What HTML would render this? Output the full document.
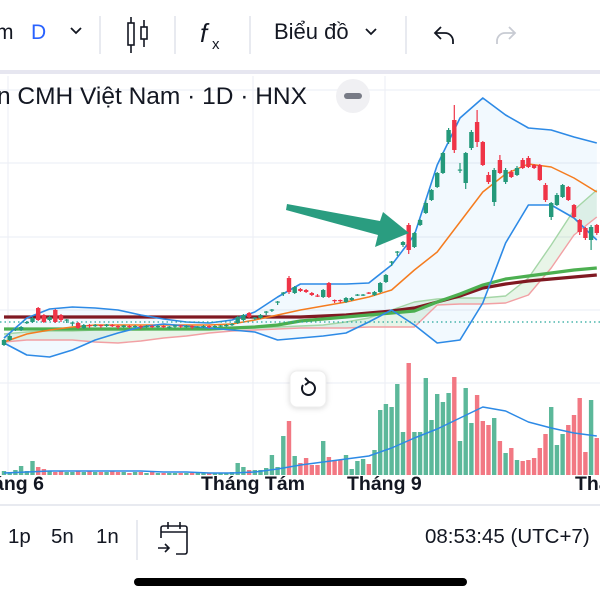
<!DOCTYPE html>
<html><head><meta charset="utf-8">
<style>
html,body{margin:0;padding:0;background:#fff;width:600px;height:600px;overflow:hidden;font-family:"Liberation Sans","Noto Sans CJK SC",sans-serif;}
svg text{font-family:"Liberation Sans","Noto Sans CJK SC",sans-serif;}
</style></head>
<body>
<svg id="c" width="600" height="600" viewBox="0 0 600 600" xmlns="http://www.w3.org/2000/svg">
<!-- toolbar -->
<g>
<text x="-4" y="39" font-size="21" fill="#131722">m</text>
<text x="31" y="39" font-size="21" fill="#2962ff">D</text>
<path d="M71 28 l5 5 l5 -5" stroke="#131722" stroke-width="1.8" fill="none"/>
<line x1="100" y1="16" x2="100" y2="54" stroke="#e0e3eb" stroke-width="1.5"/>
<g stroke="#131722" stroke-width="1.6" fill="none">
<line x1="131" y1="17" x2="131" y2="53"/><rect x="128" y="23" width="6" height="22" fill="#fff"/>
<line x1="144" y1="20" x2="144" y2="47"/><rect x="141" y="27" width="6" height="12" fill="#fff"/>
</g>
<line x1="175" y1="16" x2="175" y2="54" stroke="#e0e3eb" stroke-width="1.5"/>
<g>
<text x="200" y="42" font-size="26" font-family="Liberation Serif" fill="#131722" font-style="italic">f</text>
<text x="212" y="49" font-size="15" fill="#131722">x</text>
</g>
<line x1="250" y1="16" x2="250" y2="54" stroke="#e0e3eb" stroke-width="1.5"/>
<text x="274" y="39" font-size="22" fill="#131722">Biểu đồ</text>
<path d="M366 29 l5 5 l5 -5" stroke="#131722" stroke-width="1.8" fill="none"/>
<line x1="406" y1="16" x2="406" y2="54" stroke="#e0e3eb" stroke-width="1.5"/>
<path d="M441 27 l-6 6 l6 6 M435 33 h10 a8 8 0 0 1 8 8 v3" stroke="#131722" stroke-width="1.8" fill="none"/>
<path d="M509 27 l6 6 l-6 6 M515 33 h-10 a8 8 0 0 0 -8 8 v3" stroke="#c8cbd3" stroke-width="1.8" fill="none"/>
<rect x="0" y="70" width="600" height="4" fill="#e6e6f0"/>
</g>
<g id="plot"></g>
<!-- arrow -->
<polygon points="287,204 380,221 383,212 409,233 375,247 378,235 286,210" fill="#2a9d80"/>
<!-- title -->
<text x="-3" y="104" font-size="24.5" fill="#131722">n CMH Việt Nam · 1D · HNX</text>
<g>
<circle cx="353" cy="96" r="17" fill="#f0f0f3"/><rect x="344" y="93" width="18" height="6" rx="3" fill="#787b86"/>
</g>
<!-- reset button -->
<g>
<rect x="290" y="371" width="36" height="36" rx="7" fill="#fff" stroke="#eee" style="filter:drop-shadow(0 1px 3px rgba(0,0,0,0.15))"/>
<path d="M303 385 a6.5 6.5 0 1 0 6 -3" stroke="#131722" stroke-width="2" fill="none"/>
<path d="M305 378 l4 4 l-4 3" stroke="#131722" stroke-width="2" fill="none"/>
</g>
<!-- x axis labels -->
<g font-size="19.5" font-weight="bold" fill="#131722">
<text x="-7" y="490">áng 6</text>
<text x="201" y="490">Tháng Tám</text>
<text x="347" y="490">Tháng 9</text>
<text x="575" y="490">Thá</text>
</g>
<!-- bottom bar -->
<line x1="0" y1="505" x2="600" y2="505" stroke="#e0e3eb" stroke-width="1.5"/>
<g font-size="20.5" fill="#131722">
<text x="8" y="543">1p</text>
<text x="51" y="543">5n</text>
<text x="96" y="543">1n</text>
<text x="425" y="543">08:53:45 (UTC+7)</text>
</g>
<line x1="137" y1="520" x2="137" y2="560" stroke="#e0e3eb" stroke-width="1.5"/>
<g stroke="#131722" stroke-width="1.6" fill="none">
<path d="M161 538 v-10 a2 2 0 0 1 2 -2 h22 a2 2 0 0 1 2 2 v24 a2 2 0 0 1 -2 2 h-9"/>
<line x1="161" y1="532" x2="187" y2="532"/><line x1="168" y1="522" x2="168" y2="529"/><line x1="180" y1="522" x2="180" y2="529"/>
<path d="M158 548 h11 M165 544 l4 4 l-4 4"/>
</g>
<rect x="134" y="578" width="333" height="8" rx="4" fill="#000"/>
</svg>
<script>
// ===== data =====
const opens  = [55,60,70,70,77,78,92,85,80,90,85,80,77,77,72,75,74,75,74,75,74,73,74,73,74,73,74,73.5,74,73,73.5,74.5,73.5,74,73,73.5,74,73,74,74.5,75,77,80,87,82,82,88,90,98,107,122,107,111,110,107,104.5,103,117,100,100,98,100,105,105,107.5,105,108,118,138,148,155,175,153,175,187,200,213,227,258,280,230,217,252,278,258,225,198,240,218,228,225,240,242,235,235,215,183,195,203,213,195,180,172,160,175];
const closes = [60,64,71,73,78,82,80,78,83,78,80,80.5,77.5,72,75,74,75,74,75.5,74,73,74.5,73,74,73,74,73.5,74,73,73.5,74.5,73.5,74,73,73.5,74,73,74,74.5,75,76,83,85,83,82.5,85,88.5,90.5,98.5,107.5,108,113,109,108,105,104,110,103,99.5,99.5,102,102,105.5,105.5,107,108,117,125,138.5,148.5,158,150,167,180,197,210,227,247,270,250,230.5,247,268,258,235,218,230,227,230,223,232,232,233,232,220,200,197,205,215,200,183,168,162,173,167];
const highs  = [61,66,72,74,79,83,93,86,84,91,86,81,78,78,76,76,76,75.5,76,76,75,75,75,75,74.5,75,75,75,74.5,74,75,75,75,74.5,74,75,74.5,75,75,76,77,84,86,88,83,86,89,91,99,108,124,114,112,111,108,106,111,118,100.5,100.5,103,103,106,106,108,109,118,126,139,149,159,177,168,181,200,211,228,248,272,295,237,248,270,290,259,228,232,245,232,230,234,242,244,236,236,217,198,207,216,214,196,181,173,175,176];
const lows   = [54,59,69,69,76,77,79,77,79,77,78,77,74,71,71,72,73,72,73,73,71,72,72,72,71,72,72,72,72,71,72,72,72,71,72,72,72,72,73,73,74,76,79,82,80,81,85,88,95,104,106,106,108,107,104,103,102,102,97,97,97,99,104,104,106,104,107,117,134,144,153,146,152,174,186,199,212,226,256,247,227,211,250,253,234,216,194,226,216,222,224,231,232,231,219,198,180,194,202,199,182,165,160,150,165];
const volumes = [4,3,5,9,4,14,8,6,4,3,4,3,3,4,3,4,3,3,3,4,3,3,2,3,3,2,3,2,2,2,2,2,2,2,2,2,2,2,2,2,3,12,8,5,5,5,7,20,8,39,54,19,12,17,10,10,34,18,14,15,20,6,14,16,11,25,65,71,68,91,43,112,43,43,97,55,81,73,82,98,34,87,52,80,54,50,57,34,22,27,15,14,15,17,27,41,68,30,41,50,60,77,23,75,37];
// indicator lines sampled at these candle indices
const lineIdx   = [0,4,8,12,16,20,24,28,32,36,40,44,48,52,56,60,64,68,72,76,80,84,88,92,96,100,104];
const bbUpper   = [62,82,91,93,92,90,85,81,78,77,80,88,103,116,116,116,117,135,165,235,282,302,285,272,270,263,257];
const bbLower   = [57,45,43,50,60,67,73,76,74,72,70,68,60,62,64,67,78,90,75,57,60,97,157,195,195,182,160];
const ma20      = [58,66,70,73,75,75,75,75,75,75,76,80,85,90,94,98,103,110,130,148,178,208,226,236,233,222,208];
const maGreen   = [71,71,71,71,71,71,71,71,71,71,72,73,75,79,81,83,85,87,89,98,106,115,121,124,127,130,132];
const maDarkRed = [83,83,83,83,83,83,83,83,83,83,83,83,83,83,84,85,87,89,92,98,104,112,116,119,121,123,125];
const spanPink  = [58,60,60,60,58,57,59,62,64,67,69,70,71,72,72,72,73,73,73,95,96,96,97,105,132,165,183];
const spanGreen = [66,68,69,69,70,70,70,71,72,72,72,72,73,74,75,78,82,90,98,101,102,102,104,122,155,190,210];
const volMA     = [2,3,4,4,4,4,4,3,3,2,2,3,6,10,13,16,19,27,37,46,57,68,64,53,47,42,39];
const baseline = 78; // dotted reference price

// ===== scales =====
const xS = i => 4 + 5.7 * i;
const yS = p => 400 - p;
const vS = v => 475 - v;
const NS = 'http://www.w3.org/2000/svg';
const plot = document.getElementById('plot');
function mk(tag, attrs, parent) {
  const e = document.createElementNS(NS, tag);
  for (const k in attrs) e.setAttribute(k, attrs[k]);
  (parent || plot).appendChild(e);
  return e;
}
// grid
[90, 163, 237, 310, 383].forEach(y => {
  const g = mk('line', {x1:0, x2:600, y1:y, y2:y, stroke:'#eef0f6', 'stroke-width':1.2});
  
  
});
[8, 253, 385].forEach(x => {
  const g = mk('line', {x1:x, x2:x, y1:76, y2:475, stroke:'#eef0f6', 'stroke-width':1.2});
  
  
});
const pts = (arr, sc) => lineIdx.map((ix, k) => xS(ix).toFixed(1) + ',' + sc(arr[k]).toFixed(1));
// bb fill
const bbf = mk('polygon', {points: pts(bbUpper, yS).concat(pts(bbLower, yS).reverse()).join(' '), fill:'rgba(33,150,243,0.06)'});


const cf = mk('polygon', {points: pts(spanGreen, yS).concat(pts(spanPink, yS).reverse()).join(' '), fill:'rgba(76,175,80,0.13)'});


function line(arr, color, w, name, sc) {
  const l = mk('polyline', {points: pts(arr, sc || yS).join(' '), fill:'none', stroke:color, 'stroke-width':w, 'stroke-linejoin':'round'});
  
  
}
line(spanPink, '#f2a0a4', 1.4, 'cloud-span-b-line');
line(spanGreen, '#a5d6a7', 1.4, 'cloud-span-a-line');
line(maDarkRed, '#801922', 3.2, 'ma-long-line');
line(maGreen, '#4caf50', 3.2, 'ma-mid-line');
line(ma20, '#f57c1f', 1.5, 'ma20-line');
line(bbUpper, '#2d8ae6', 1.6, 'bollinger-upper-line');
line(bbLower, '#2d8ae6', 1.6, 'bollinger-lower-line');
const dl = mk('line', {x1:0, x2:600, y1:yS(baseline), y2:yS(baseline), stroke:'#26a69a', 'stroke-width':1.3, 'stroke-dasharray':'1.5 3'});


// volume
for (let i = 0; i < volumes.length; i++) {
  const up = closes[i] >= opens[i];
  const r = mk('rect', {x:(xS(i) - 2.2).toFixed(1), y:vS(volumes[i]), width:4.4, height:volumes[i], fill: up ? '#5cb89a' : '#f27883'});
  
  
}
line(volMA, '#2d8ae6', 1.5, 'volume-ma-line', vS);
// candles
for (let i = 0; i < opens.length; i++) {
  const up = closes[i] >= opens[i];
  const col = up ? '#24997a' : '#ef3447';
  const g = mk('g', {});
  
  
  mk('line', {x1:xS(i), x2:xS(i), y1:yS(highs[i]), y2:yS(lows[i]), stroke:col, 'stroke-width':1.2}, g);
  const top = yS(Math.max(opens[i], closes[i]));
  const h = Math.max(1.2, Math.abs(opens[i] - closes[i]));
  mk('rect', {x:(xS(i) - 2.2).toFixed(1), y:top, width:4.4, height:h, fill:col}, g);
}
</script>
</body></html>
